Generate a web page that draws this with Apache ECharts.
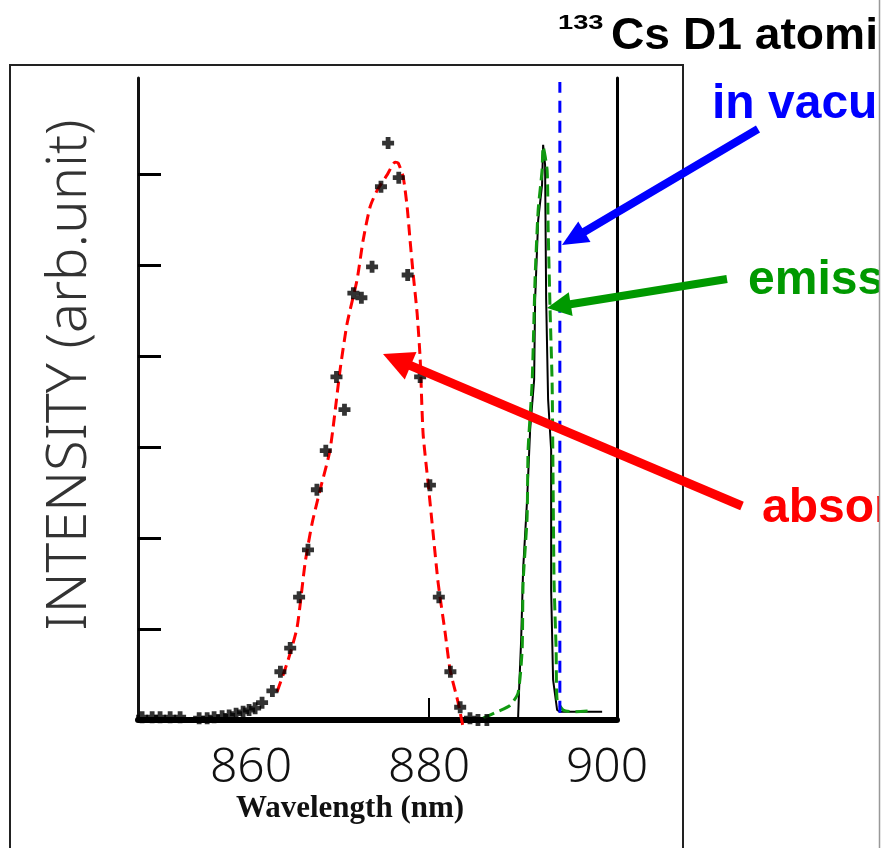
<!DOCTYPE html>
<html><head><meta charset="utf-8">
<script src="https://cdn.jsdelivr.net/npm/echarts@6/dist/echarts.min.js"></script>
<style>html,body{margin:0;padding:0;background:#fff}#c{width:881px;height:848px}</style>
</head><body><div id="c"></div>
<script>
// ---- data (wavelength nm, intensity arb. unit) ----
const absorptionPoints = [
  [847.76,0.03],[848.89,0.03],[849.78,0.03],[850.91,0.03],[852.03,0.03],
  [854.17,0.02],[855.07,0.02],[855.85,0.03],[856.75,0.04],[857.54,0.05],[858.32,0.07],
  [859.11,0.09],[859.78,0.11],[860.46,0.13],[861.24,0.19],[862.4,0.32],[863.3,0.53],
  [864.4,0.79],[865.4,1.35],[866.4,1.87],[867.4,2.53],[868.4,2.96],[869.6,3.77],
  [870.5,3.41],[871.5,4.69],[872.4,4.64],[873.6,4.98],[874.6,5.86],[875.4,6.34],
  [876.6,5.96],[877.6,4.89],[879.0,3.77],[880.1,2.58],[881.1,1.35],[882.4,0.53],
  [883.5,0.14],[884.6,0.02],[885.5,0.0],[886.5,0.0]
];
const absorptionFit = [
  [862.93,0.31],[864.17,0.66],[865.18,1.02],[866.08,1.73],[866.86,2.16],[867.76,2.53],
  [868.88,2.97],[870.01,3.85],[870.80,4.36],[871.92,4.84],[872.59,5.27],[873.38,5.64],
  [874.17,5.82],[875.29,5.99],[876.19,6.13],[876.53,6.12],[877.09,5.97],[877.54,5.64],
  [877.87,5.27],[878.21,4.91],[878.66,4.47],[879.0,3.98],[879.33,3.15],[879.9,2.60],
  [880.46,2.05],[881.02,1.51],[881.81,0.96],[882.37,0.55],[883.27,0.19],[883.83,-0.08]
];
const emissionMeasured = [
  [890.0,0.0],[890.12,0.33],[890.35,0.88],[890.57,1.65],[891.02,2.42],[891.36,3.19],
  [891.81,3.74],[891.92,4.62],[892.26,5.49],[892.70,5.88],[892.82,6.32],[893.04,6.10],
  [893.16,4.62],[893.38,3.52],[893.72,2.97],[893.72,1.43],[893.94,0.44],[894.39,0.11],
  [894.73,0.09],[899.45,0.09]
];
const emissionFit = [
  [886.08,0.02],[887.65,0.09],[889.11,0.16],[890.01,0.30],[890.46,0.77],[890.57,1.51],
  [891.02,2.23],[891.13,2.97],[891.58,3.70],[891.92,4.87],[892.26,5.60],[892.70,6.04],
  [892.82,6.30],[893.27,6.04],[893.38,5.42],[893.60,4.51],[893.83,3.70],[893.94,2.60],
  [894.05,1.51],[894.28,0.77],[894.39,0.22],[895.06,0.11],[896.19,0.09],[898.1,0.10]
];
const vacuumLine = [[894.7,0.08],[894.7,7.01]];
const xTickLabels = [860, 880, 900];
const xTickMarks = [880];
const yTickMarks = [1, 2, 3, 4, 5, 6];

const chart = echarts.init(document.getElementById('c'), null, {renderer:'canvas'});

function arrow(x1,y1,x2,y2,color,w,hl,hw){
  const dx=x2-x1, dy=y2-y1, len=Math.hypot(dx,dy), ux=dx/len, uy=dy/len;
  const bx=x2-ux*hl, by=y2-uy*hl, px=-uy, py=ux;
  return [
    {type:'line', z:50, shape:{x1:x1,y1:y1,x2:bx+ux*2,y2:by+uy*2}, style:{stroke:color,lineWidth:w}},
    {type:'polygon', z:50, shape:{points:[[x2,y2],[bx+px*hw,by+py*hw],[bx-px*hw,by-py*hw]]}, style:{fill:color}}
  ];
}
const plus = 'path://M3,0H7V3H10V7H7V10H3V7H0V3H3Z';
const thinFont = '"Noto Sans", "Liberation Sans", sans-serif';

chart.setOption({
  animation:false,
  backgroundColor:'#fff',
  grid:{left:138, right:264, top:78, bottom:128},
  xAxis:[{
    type:'value', min:847.3, max:901.12, position:'bottom',
    splitLine:{show:false},
    axisLine:{show:true, lineStyle:{color:'#000', width:3}},
    axisTick:{show:true, inside:true, length:22, lineStyle:{color:'#000', width:2}, customValues:xTickMarks},
    axisLabel:{show:true, customValues:xTickLabels, margin:24, fontSize:48, fontFamily:thinFont, fontWeight:300, color:'#111'}
  },{
    type:'value', min:847.3, max:901.12, position:'top',
    splitLine:{show:false}, axisTick:{show:false}, axisLabel:{show:false},
    axisLine:{show:true, lineStyle:{color:'#000', width:6}}
  }],
  yAxis:[{
    type:'value', min:0, max:7.055, position:'left',
    splitLine:{show:false},
    axisLine:{show:true, lineStyle:{color:'#111', width:3}},
    axisTick:{show:true, inside:true, length:23, lineStyle:{color:'#000', width:3}, customValues:yTickMarks},
    axisLabel:{show:false}
  },{
    type:'value', min:0, max:7.055, position:'right',
    splitLine:{show:false}, axisTick:{show:false}, axisLabel:{show:false},
    axisLine:{show:true, lineStyle:{color:'#000', width:3}}
  }],
  series:[
    {name:'absorption fit', type:'line', data:absorptionFit, showSymbol:false, clip:false, smooth:0.2,
     lineStyle:{color:'#ff0000', width:3, type:[11,6]}, z:3},
    {name:'emission measured', type:'line', data:emissionMeasured, showSymbol:false, clip:false,
     lineStyle:{color:'#000', width:2}, z:2},
    {name:'emission fit', type:'line', data:emissionFit, showSymbol:false, clip:false, smooth:0.2,
     lineStyle:{color:'#119911', width:3, type:[12,6]}, z:4},
    {name:'in vacuum', type:'line', data:vacuumLine, showSymbol:false, clip:false,
     lineStyle:{color:'#0000ff', width:3, type:[12,8]}, z:4},
    {name:'absorption measured', type:'scatter', data:absorptionPoints, symbol:plus, symbolSize:12,
     itemStyle:{color:'#000'}, z:5}
  ],
  graphic:[
    {type:'rect', z:1, silent:true, shape:{x:10, y:65, width:673, height:800}, style:{fill:'none', stroke:'#222', lineWidth:2}},
    {type:'text', z:60, x:558, y:23, scaleX:1.3, style:{x:0, y:0, text:'133', font:'bold 21px "Liberation Sans"', fill:'#000', verticalAlign:'middle'}},
    {type:'text', z:60, x:611, y:37, scaleX:1.05, style:{x:0, y:0, text:'Cs D1 atomic line', font:'bold 44px "Liberation Sans"', fill:'#000', verticalAlign:'middle'}},
    {type:'text', z:60, style:{x:712, y:105, text:'in vacuum', font:'bold 48px "Liberation Sans"', fill:'#0000ff', verticalAlign:'middle'}},
    {type:'text', z:60, style:{x:748, y:281, text:'emission', font:'bold 48px "Liberation Sans"', fill:'#009900', verticalAlign:'middle'}},
    {type:'text', z:60, style:{x:762, y:509, text:'absorption', font:'bold 48px "Liberation Sans"', fill:'#ff0000', verticalAlign:'middle'}},
    {type:'text', z:60, x:70, y:375, rotation:Math.PI/2, style:{x:0, y:0, text:'INTENSITY (arb.unit)', font:'300 56px ' + thinFont, fill:'#333', align:'center', verticalAlign:'middle'}},
    {type:'text', z:60, style:{x:350, y:809, text:'Wavelength (nm)', font:'bold 31px "Liberation Serif"', fill:'#111', align:'center', verticalAlign:'middle'}},
    ...arrow(758,129,562,245,'#0000ff',8,26,12),
    ...arrow(727,279,547,308,'#009900',8,24,12),
    ...arrow(742,506,383,354,'#ff0000',9,30,15),
    {type:'rect', z:90, shape:{x:880, y:0, width:10, height:848}, style:{fill:'#fff'}},
    {type:'line', z:95, shape:{x1:879.5, y1:0, x2:879.5, y2:848}, style:{stroke:'#999', lineWidth:1.5}}
  ]
});
</script></body></html>
